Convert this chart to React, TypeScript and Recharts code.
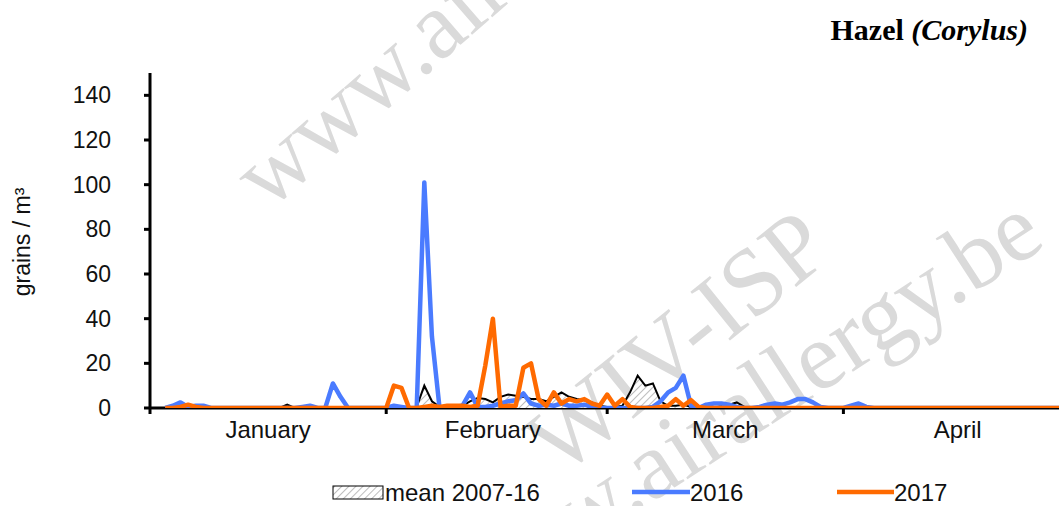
import React from 'react';
import { ComposedChart, Area, Line, XAxis, YAxis } from 'recharts';

// Hazel (Corylus) daily pollen counts, 1 Jan – 30 Apr (29-day February)
const monthNames = ['January', 'February', 'March', 'April'];
const monthStarts = [0, 31, 60, 91, 121];
const monthMids = [15.5, 45, 75.5, 106];
const yTicks = [0, 20, 40, 60, 80, 100, 120, 140];

const meanJan = [null, null, 0, 0, 0, 0, 0, 0, 0, 0, 0, 0, 0, 0, 0, 0, 0, 0, 1.5, 0, 0, 0, 0, 0, 0, 0, 0, 0, 0, 0, 0];
const meanFeb = [0, 0, 0, 0, 0.5, 10, 3, 0.5, 0.5, 0.5, 1, 3, 4.5, 4, 2.5, 5, 6, 5.5, 5, 4, 4, 3, 5, 7, 5, 4, 3.5, 2.5, 1];
const meanMar = [0.5, 0.5, 1, 7, 14.5, 10, 11, 3, 1, 1, 1.5, 0.5, 0.5, 1.5, 2, 1.5, 1.5, 2.5, 0.5, 0, 0, 0, 0, 0, 0, 0, 0, 0, 0, 0, 0];
const meanApr = [0, 0, 0, 0, 0, 0, 0, 0, 0, 0, 0, 0, 0, 0, 0, 0, 0, 0, 0, 0, 0, 0, 0, 0, 0, 0, 0, 0, 0, 0];

const y2016Jan = [null, null, 0, 1, 2.5, 0.5, 1, 1, 0, 0, 0, 0, 0, 0, 0, 0, 0, 0, 0, 0, 0.5, 1, 0, 0, 11, 5, 0, 0, 0, 0, 0];
const y2016Feb = [0, 1, 0.5, 0, 0, 101, 32, 0, 0, 0.5, 1, 7, 0.5, 0.5, 1, 2, 3, 3.5, 6.5, 2, 1, 1.5, 1, 2, 1, 1, 1.5, 0.5, 0];
const y2016Mar = [0, 0, 0, 0, 0, 0, 0.5, 3, 7, 9, 14.5, 1, 0, 1.5, 2, 2, 1.5, 0.5, 0, 0, 0.5, 1.5, 2, 1.5, 2.5, 4, 4, 2.5, 0.5, 0, 0];
const y2016Apr = [0, 1, 2, 0.5, 0, 0, 0, 0, 0, 0, 0, 0, 0, 0, 0, 0, 0, 0, 0, 0, 0, 0, 0, 0, 0, 0, 0, 0, 0, 0];

const y2017Jan = [null, null, 0, 0, 0.5, 1.5, 0.5, 0, 0, 0, 0, 0, 0, 0, 0, 0, 0, 0, 0, 0, 0, 0, 0, 0, 0, 0, 0, 0, 0, 0, 0];
const y2017Feb = [0, 10, 9, 0, 0, 0.5, 1, 0.5, 1, 1, 1, 0.5, 1, 19, 40, 0.5, 1, 1, 18, 20, 4, 1, 7, 2, 4, 3, 4, 2, 1];
const y2017Mar = [6, 1, 4, 0.5, 0, 0, 0, 0.5, 1, 4, 1, 3.5, 0.5, 0, 0, 0, 0, 0, 0, 0, 0, 0, 0, 0, 0, 0, 0, 0, 0, 0, 0];
const y2017Apr = [0, 0, 0, 0, 0, 0, 0, 0, 0, 0, 0, 0, 0, 0, 0, 0, 0, 0, 0, 0, 0, 0, 0, 0, 0, 0, 0, 0, 0, 0];

const mean = [...meanJan, ...meanFeb, ...meanMar, ...meanApr];
const y2016 = [...y2016Jan, ...y2016Feb, ...y2016Mar, ...y2016Apr];
const y2017 = [...y2017Jan, ...y2017Feb, ...y2017Mar, ...y2017Apr];

const rows = mean.map((m, i) => ({ day: i, mean: m, y2016: y2016[i], y2017: y2017[i] }));

const BLUE = '#4a7bff';
const ORANGE = '#ff6a00';
const W = 1059;
const H = 506;
const SANS = '"Liberation Sans", Arial, sans-serif';
const SERIF = '"Liberation Serif", "Times New Roman", serif';

const Hatch = ({ id }: { id: string }) => (
  <pattern id={id} width="5" height="5" patternUnits="userSpaceOnUse" patternTransform="rotate(45)">
    <rect width="5" height="5" fill="#fff" />
    <line x1="0" y1="0" x2="0" y2="5" stroke="#9a9a9a" strokeWidth="1.3" />
  </pattern>
);

export default function App() {
  return (
    <div style={{ position: 'absolute', left: 0, top: 0, width: W, height: H, overflow: 'hidden', background: '#fff', fontFamily: SANS }}>
      {/* watermark */}
      <svg style={{ position: 'absolute', left: 0, top: 0 }} width={W} height={H}>
        <g fill="#dadada" fontFamily={SERIF} fontSize={96}>
          <text transform="translate(268,212) rotate(-41)">www.airallergy.be</text>
          <text transform="translate(560,478) rotate(-39)">WIV-ISP</text>
          <text transform="translate(1048,245) rotate(-33)" textAnchor="end">www.airallergy.be</text>
        </g>
      </svg>

      <div style={{ position: 'absolute', left: 0, top: 0 }}>
        <ComposedChart width={1080} height={H} data={rows} margin={{ top: 73, right: 8, bottom: 50, left: 0 }}>
          <defs>
            <Hatch id="hatch" />
          </defs>
          <XAxis
            dataKey="day"
            type="number"
            domain={[0, 121]}
            ticks={monthStarts}
            tickFormatter={() => ''}
            height={8}
            tickSize={6}
            axisLine={{ stroke: '#000', strokeWidth: 3 }}
            tickLine={{ stroke: '#000', strokeWidth: 3 }}
            allowDataOverflow
          />
          <XAxis
            xAxisId="labels"
            dataKey="day"
            type="number"
            domain={[0, 121]}
            ticks={monthMids}
            tickFormatter={(v: number) => monthNames[monthMids.indexOf(v)] ?? ''}
            height={40}
            tickSize={0}
            tickMargin={5}
            axisLine={false}
            tickLine={false}
            tick={{ fontSize: 24, fill: '#111', fontFamily: SANS }}
            allowDataOverflow
          />
          <YAxis
            type="number"
            domain={[0, 150]}
            ticks={yTicks}
            width={150}
            tickSize={6}
            tickMargin={33}
            axisLine={{ stroke: '#000', strokeWidth: 3 }}
            tickLine={{ stroke: '#000', strokeWidth: 3 }}
            tick={{ fontSize: 23, fill: '#111', fontFamily: SANS }}
            allowDataOverflow
          />
          <Area
            type="linear"
            dataKey="mean"
            stroke="#000"
            strokeWidth={2}
            fill="url(#hatch)"
            fillOpacity={1}
            dot={false}
            activeDot={false}
            isAnimationActive={false}
            zIndex={700}
          />
          <Line type="linear" dataKey="y2016" stroke={BLUE} strokeWidth={4.5} dot={false} activeDot={false} strokeLinejoin="round" isAnimationActive={false} zIndex={701} />
          <Line type="linear" dataKey="y2017" stroke={ORANGE} strokeWidth={4.5} dot={false} activeDot={false} strokeLinejoin="round" isAnimationActive={false} zIndex={702} />
        </ComposedChart>
      </div>

      {/* title, axis label, legend */}
      <svg style={{ position: 'absolute', left: 0, top: 0, pointerEvents: 'none' }} width={W} height={H}>
        <defs>
          <Hatch id="hatchLegend" />
        </defs>
        <text x={1028} y={40} textAnchor="end" fontFamily={SERIF} fontWeight="bold" fontSize={30} fill="#000">
          Hazel <tspan fontStyle="italic">(Corylus)</tspan>
        </text>
        <text transform="translate(30,242) rotate(-90)" textAnchor="middle" fontFamily={SANS} fontSize={23} fill="#111">
          grains / m³
        </text>
        <g fontFamily={SANS} fontSize={24} fill="#111">
          <rect x={333} y={486} width={50} height={13} fill="url(#hatchLegend)" stroke="#000" strokeWidth={1} />
          <text x={385} y={501}>mean 2007-16</text>
          <line x1={632} y1={492} x2={690} y2={492} stroke={BLUE} strokeWidth={4.5} />
          <text x={690} y={501}>2016</text>
          <line x1={837} y1={492} x2={894} y2={492} stroke={ORANGE} strokeWidth={4.5} />
          <text x={894} y={501}>2017</text>
        </g>
      </svg>
    </div>
  );
}
